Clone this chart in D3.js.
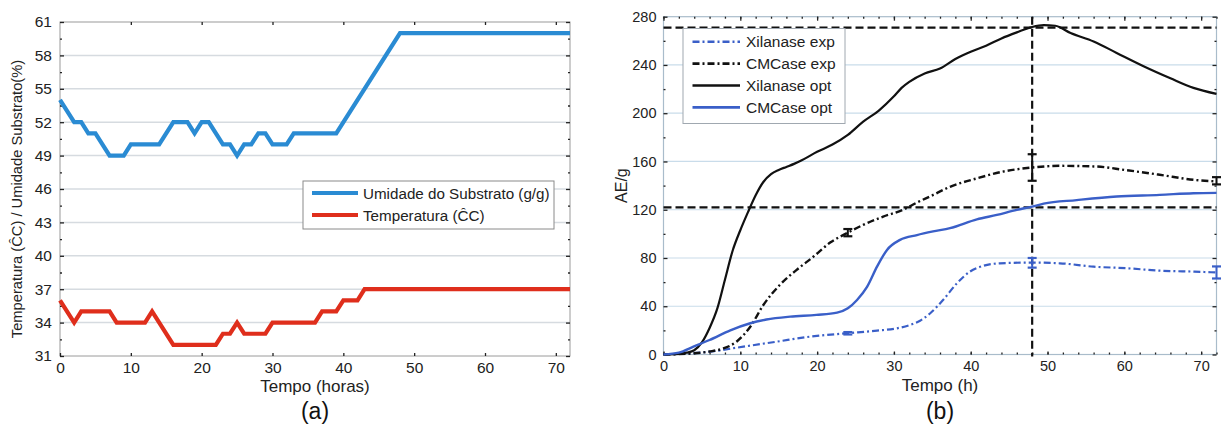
<!DOCTYPE html>
<html><head><meta charset="utf-8">
<script src="https://cdn.jsdelivr.net/npm/d3@7"></script>
<style>body{margin:0;background:#fff}svg{display:block}text{font-family:Arial,"Liberation Sans",sans-serif}</style>
</head><body><svg id="c" width="1229" height="427"></svg>
<script>
// ---- Panel (a) data ----
const timeHum = [0,2,3,4,5,7,9,10,14,16,18,19,20,21,23,24,25,26,27,28,29,30,32,33,39,48,72];
const humidity = [54,52,52,51,51,49,49,50,50,52,52,51,52,52,50,50,49,50,50,51,51,50,50,51,51,60,60];
const timeTemp = [0,2,3,7,8,12,13,16,22,23,24,25,26,29,30,36,37,39,40,42,43,72];
const temperature = [36,34,35,35,34,34,35,32,32,33,33,34,33,33,34,34,35,35,36,36,37,37];
const yTicksA = [31,34,37,40,43,46,49,52,55,58,61];
const xTicks = [0,10,20,30,40,50,60,70];
const legendA = ["Umidade do Substrato (g/g)","Temperatura (ĈC)"];

// ---- Panel (b) data ----
const tXilOpt = [0,2,3,4,5,6,7,8,9,10,11,12,13,14,15,16,17,18,20,22,24,26,28,30,31,32,34,36,38,40,42,44,46,48,49.5,51,53,56,59,62.5,66,69,72];
const xilOpt  = [0,0.5,1.5,3.5,10,22,38,62,86,103,118,132,143,149.5,153,155.5,158,161,168,174,182,193,202,214,221,226,233,237,245,251,256,262,267,271.5,273,272.5,266.5,259.5,250,239,229,221,216];
const tCmcExp = [0,2,4,6,7.8,9.5,11.3,13,15.2,17.3,19.5,21.7,24,26,28.6,31.2,33,34.7,37.3,40.8,44.2,48,51.6,56.4,60,64.6,69,72];
const cmcExp  = [0,0.3,1,2.5,5,10.6,23,41,58,70,81,92.8,101,107.4,114.3,120,126,131,139,146,151.6,155,156.4,155.8,153,149,144.8,143.5];
const tCmcOpt = [0,2,3.9,6,8.7,11.3,13.4,16.5,19.9,22.6,24,25.2,26.5,27.8,29.1,30.8,33,35.1,37.3,40.8,43.4,46,48,49.5,53.8,59,64.6,69,72];
const cmcOpt  = [0,1.5,6.5,12,20,25.9,29,31.4,32.8,34.7,38.3,45.2,56,72.8,86.7,95,99,102,104.7,112,115.7,119.9,122.6,125,128,131,132.3,133.7,134];
const tXilExp = [0,3,6,10.4,14.7,19.1,23.9,27.8,30.4,32.1,33.4,34.7,36.4,38.2,39.9,41.6,43.8,48,51.6,56,60.3,64.6,69,72];
const xilExp  = [0,0.8,2.3,6.5,10.6,14.8,17.6,19.8,21.7,24.5,28,34,45.2,59,68.7,73.4,75.6,76.2,75.6,72.8,71.5,69.5,68.7,68];
const errTimes = [24,48,72];
const cmcErrMean = [101,155,144];
const cmcErr = [3,11,3];
const xilErrMean = [17.6,76,68];
const xilErr = [1,4,5];
const refH = [271,122];
const refV = [48];
const yTicksB = [0,40,80,120,160,200,240,280];
const legendB = ["Xilanase exp","CMCase exp","Xilanase opt","CMCase opt"];

const svg = d3.select("#c");

// ================= Panel (a) =================
{
  const x = d3.scaleLinear().domain([0,72]).range([60,570]);
  const y = d3.scaleLinear().domain([31,61]).range([356,22]);
  const g = svg.append("g");
  g.selectAll(".gr").data(yTicksA.slice(1,-1)).enter().append("line")
    .attr("x1",x(0)).attr("x2",x(72)).attr("y1",d=>y(d)).attr("y2",d=>y(d))
    .attr("stroke","#d6dbe0").attr("stroke-width",1.5);
  g.append("rect").attr("x",x(0)).attr("y",y(61)).attr("width",x(72)-x(0)).attr("height",y(31)-y(61))
    .attr("fill","none").attr("stroke","#9a9a9a").attr("stroke-width",1);
  g.append("g").attr("transform",`translate(0,${y(31)})`)
    .call(d3.axisBottom(x).tickValues(xTicks).tickSize(-3).tickPadding(6).tickFormat(d3.format("d")));
  g.append("g").attr("transform",`translate(${x(0)},0)`)
    .call(d3.axisLeft(y).tickValues(yTicksA).tickSize(-4).tickPadding(8).tickFormat(d3.format("d")));
  g.append("g").attr("transform",`translate(${x(72)},0)`)
    .call(d3.axisRight(y).tickValues(yTicksA).tickSize(-4).tickFormat(""));
  g.append("g").attr("transform",`translate(0,${y(61)})`)
    .call(d3.axisTop(x).tickValues(xTicks.slice(1)).tickSize(-3).tickFormat(""));
  const minorA = yTicksA.slice(0,-1).map(d=>d+1.5);
  g.append("g").attr("transform",`translate(${x(0)},0)`).call(d3.axisLeft(y).tickValues(minorA).tickSize(-2).tickFormat(""));
  g.append("g").attr("transform",`translate(${x(72)},0)`).call(d3.axisRight(y).tickValues(minorA).tickSize(-2).tickFormat(""));
  g.selectAll(".domain").remove();
  g.selectAll(".tick line").attr("stroke","#222").attr("stroke-width",1.3);
  g.selectAll(".tick text").attr("font-size",15.5).attr("fill","#222");

  const line = d3.line().x(d=>x(d[0])).y(d=>y(d[1]));
  g.append("path").datum(timeHum.map((t,i)=>[t,humidity[i]])).attr("d",line)
    .attr("fill","none").attr("stroke","#2a8bd3").attr("stroke-width",4.2);
  g.append("path").datum(timeTemp.map((t,i)=>[t,temperature[i]])).attr("d",line)
    .attr("fill","none").attr("stroke","#df2e1c").attr("stroke-width",4.2);

  const lg = g.append("g");
  lg.append("rect").attr("x",303).attr("y",181).attr("width",251).attr("height",48)
    .attr("fill","#fff").attr("stroke","#8a8a8a").attr("stroke-width",1);
  const lc = ["#2a8bd3","#df2e1c"];
  legendA.forEach((t,i)=>{
    const yy = 193 + i*22;
    lg.append("line").attr("x1",312).attr("x2",358).attr("y1",yy).attr("y2",yy).attr("stroke",lc[i]).attr("stroke-width",4.2);
    lg.append("text").attr("x",363).attr("y",yy+5.5).attr("font-size",15.2).attr("fill","#222").text(t);
  });
  g.append("text").attr("transform",`translate(22,${(y(31)+y(61))/2+10}) rotate(-90)`).attr("text-anchor","middle")
    .attr("font-size",14.7).attr("fill","#222").text("Temperatura (ĈC) / Umidade Substrato(%)");
  g.append("text").attr("x",(x(0)+x(72))/2).attr("y",392).attr("text-anchor","middle")
    .attr("font-size",17).attr("fill","#222").text("Tempo (horas)");
  g.append("text").attr("x",(x(0)+x(72))/2).attr("y",419).attr("text-anchor","middle")
    .attr("font-size",23).attr("font-family","'Liberation Serif','DejaVu Serif',serif").attr("fill","#111").text("(a)");
}

// ================= Panel (b) =================
{
  const x = d3.scaleLinear().domain([0,72]).range([663.5,1216.5]);
  const y = d3.scaleLinear().domain([0,280]).range([354.5,16.7]);
  const g = svg.append("g");
  g.selectAll(".gr").data(yTicksB.slice(1,-1)).enter().append("line")
    .attr("x1",x(0)).attr("x2",x(72)).attr("y1",d=>y(d)).attr("y2",d=>y(d))
    .attr("stroke","#c9dcea").attr("stroke-width",1.2);
  g.append("rect").attr("x",x(0)).attr("y",y(280)).attr("width",x(72)-x(0)).attr("height",y(0)-y(280))
    .attr("fill","none").attr("stroke","#a9bccb").attr("stroke-width",1.2);
  const minorX = d3.range(0,73,2);
  const minorY = d3.range(20,280,40);
  g.append("g").attr("transform",`translate(0,${y(0)})`)
    .call(d3.axisBottom(x).tickValues(xTicks).tickSize(-3).tickPadding(6).tickFormat(d3.format("d")));
  g.append("g").attr("transform",`translate(0,${y(0)})`).call(d3.axisBottom(x).tickValues(minorX).tickSize(-2).tickFormat(""));
  g.append("g").attr("transform",`translate(0,${y(280)})`).call(d3.axisTop(x).tickValues(minorX).tickSize(-2).tickFormat(""));
  g.append("g").attr("transform",`translate(0,${y(280)})`).call(d3.axisTop(x).tickValues(xTicks).tickSize(-4).tickFormat(""));
  g.append("g").attr("transform",`translate(${x(0)},0)`)
    .call(d3.axisLeft(y).tickValues(yTicksB).tickSize(-4).tickPadding(7).tickFormat(d3.format("d")));
  g.append("g").attr("transform",`translate(${x(0)},0)`).call(d3.axisLeft(y).tickValues(minorY).tickSize(-2).tickFormat(""));
  g.append("g").attr("transform",`translate(${x(72)},0)`).call(d3.axisRight(y).tickValues(yTicksB).tickSize(-4).tickFormat(""));
  g.append("g").attr("transform",`translate(${x(72)},0)`).call(d3.axisRight(y).tickValues(minorY).tickSize(-2).tickFormat(""));
  g.selectAll(".domain").remove();
  g.selectAll(".tick line").attr("stroke","#222").attr("stroke-width",1.3);
  g.selectAll(".tick text").attr("font-size",14.5).attr("fill","#222");

  g.selectAll(".rh").data(refH).enter().append("line")
    .attr("x1",x(0)).attr("x2",x(72)).attr("y1",d=>y(d)).attr("y2",d=>y(d))
    .attr("stroke","#111").attr("stroke-width",2.2).attr("stroke-dasharray","8,4");
  g.selectAll(".rv").data(refV).enter().append("line")
    .attr("x1",d=>x(d)).attr("x2",d=>x(d)).attr("y1",y(280)).attr("y2",y(0)+2)
    .attr("stroke","#111").attr("stroke-width",2.2).attr("stroke-dasharray","8,4");

  const line = d3.line().x(d=>x(d[0])).y(d=>y(d[1])).curve(d3.curveMonotoneX);
  const blue = "#3a5fc8";
  const dd = "7,3,2,3";
  const series = [
    {t:tXilExp,v:xilExp,c:blue,w:2.2,dash:dd},
    {t:tCmcExp,v:cmcExp,c:"#111",w:2.4,dash:dd},
    {t:tXilOpt,v:xilOpt,c:"#111",w:2.2,dash:null},
    {t:tCmcOpt,v:cmcOpt,c:blue,w:2.4,dash:null}
  ];
  series.forEach(s=>{
    g.append("path").datum(s.t.map((t,i)=>[t,s.v[i]])).attr("d",line)
      .attr("fill","none").attr("stroke",s.c).attr("stroke-width",s.w)
      .attr("stroke-dasharray",s.dash);
  });
  function errBars(means, errs, col){
    const eg = g.append("g");
    errTimes.forEach((t,i)=>{
      const cx = x(t), y0 = y(means[i]-errs[i]), y1 = y(means[i]+errs[i]);
      eg.append("line").attr("x1",cx).attr("x2",cx).attr("y1",y0).attr("y2",y1).attr("stroke",col).attr("stroke-width",2);
      [y0,y1].forEach(yy=>eg.append("line").attr("x1",cx-4.5).attr("x2",cx+4.5).attr("y1",yy).attr("y2",yy).attr("stroke",col).attr("stroke-width",2.2));
    });
  }
  errBars(cmcErrMean,cmcErr,"#111");
  errBars(xilErrMean,xilErr,blue);

  const lg = g.append("g");
  lg.append("rect").attr("x",683).attr("y",28.5).attr("width",162).attr("height",95)
    .attr("fill","#fff").attr("stroke","#a0a8b0").attr("stroke-width",1);
  legendB.forEach((t,i)=>{
    const s = series[i], yy = 41.7 + i*21.9;
    lg.append("line").attr("x1",692.5).attr("x2",740).attr("y1",yy).attr("y2",yy)
      .attr("stroke",s.c).attr("stroke-width",s.w+0.3).attr("stroke-dasharray",s.dash);
    lg.append("text").attr("x",746).attr("y",yy+5.5).attr("font-size",15.5).attr("fill","#222").text(t);
  });
  g.append("text").attr("transform",`translate(627,${(y(0)+y(280))/2}) rotate(-90)`).attr("text-anchor","middle")
    .attr("font-size",16).attr("fill","#222").text("AE/g");
  g.append("text").attr("x",(x(0)+x(72))/2).attr("y",391).attr("text-anchor","middle")
    .attr("font-size",17).attr("fill","#222").text("Tempo (h)");
  g.append("text").attr("x",(x(0)+x(72))/2).attr("y",419).attr("text-anchor","middle")
    .attr("font-size",23).attr("font-family","'Liberation Serif','DejaVu Serif',serif").attr("fill","#111").text("(b)");
}
</script></body></html>
